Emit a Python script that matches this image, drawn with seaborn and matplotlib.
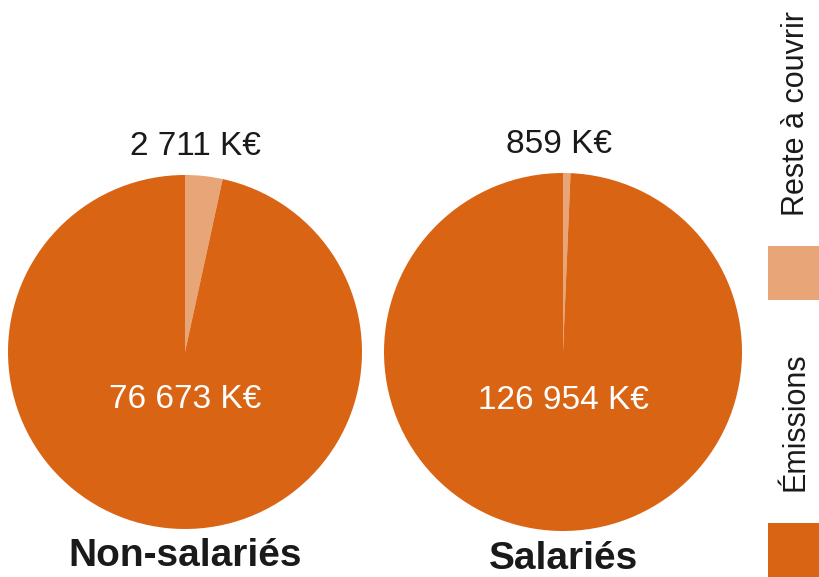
import matplotlib
matplotlib.use("Agg")
import matplotlib.pyplot as plt
import seaborn as sns
from matplotlib.patches import Rectangle

# data
groups = ["Non-salariés", "Salariés"]
categories = ["Reste à couvrir", "Émissions"]
reste = [2711, 859]
emissions = [76673, 126954]
value_labels_reste = ["2 711 K€", "859 K€"]
value_labels_emis = ["76 673 K€", "126 954 K€"]

sns.set_theme(style="white")
plt.rcParams["font.family"] = ["Liberation Sans", "DejaVu Sans"]

colors = sns.color_palette(["#E8A577", "#D96514"])

fig = plt.figure(figsize=(8.19, 5.77), dpi=100)

# pie axes boxes (left, bottom, width, height) in figure fraction
boxes = [
    [8 / 819, (577 - 529) / 577, 354 / 819, 354 / 577],
    [384 / 819, (577 - 531) / 577, 358 / 819, 358 / 577],
]
top_dx = [0.06, -0.02]

for i, box in enumerate(boxes):
    ax = fig.add_axes(box)
    ax.pie([reste[i], emissions[i]], colors=colors, startangle=90,
           counterclock=False, radius=1,
           wedgeprops=dict(linewidth=0))
    ax.set_xlim(-1, 1)
    ax.set_ylim(-1, 1)
    ax.set_aspect("equal")
    ax.axis("off")
    ax.text(top_dx[i], 1.16, value_labels_reste[i], ha="center", va="center",
            fontsize=24, color="#1a1a1a", clip_on=False)
    ax.text(0, -0.27, value_labels_emis[i], ha="center", va="center",
            fontsize=24, color="white", clip_on=False)
    ax.text(0, -1.21, groups[i], ha="center", va="baseline",
            fontsize=28, fontweight="bold", color="#1a1a1a", clip_on=False)

# legend: swatches and rotated labels on the right edge
swatch_y = [(577 - 300) / 577, 0]
text_y = [(577 - 114) / 577, (577 - 422) / 577]
for c, name, sy, ty in zip(colors, categories, swatch_y, text_y):
    fig.patches.append(Rectangle((768 / 819, sy), 51 / 819, 54 / 577,
                                 transform=fig.transFigure, color=c,
                                 linewidth=0))
    fig.text(796 / 819, ty, name, rotation=90, ha="center", va="center",
             fontsize=22, color="#1a1a1a")

fig.savefig("out.png", dpi=100)
